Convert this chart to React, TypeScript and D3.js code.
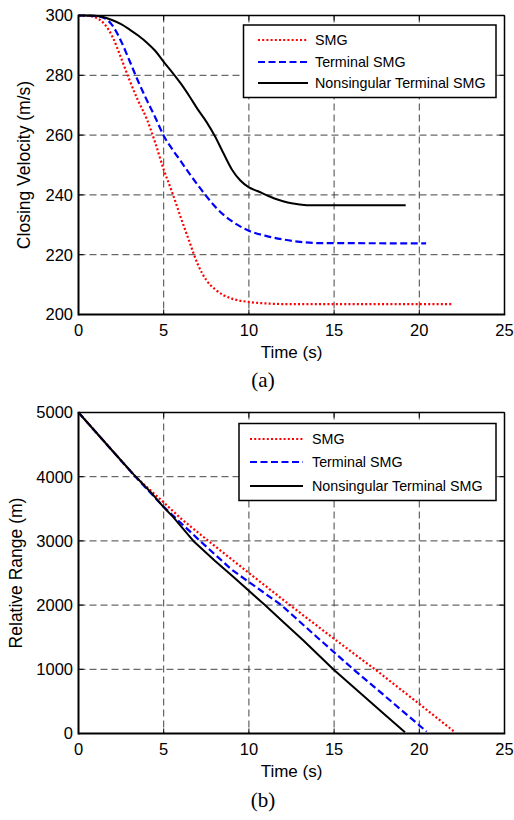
import React from "react";
import * as d3 from "d3";

// ---------- data ----------
const timeTicks = [0, 5, 10, 15, 20, 25];
const velTicks = [200, 220, 240, 260, 280, 300];
const rangeTicks = [0, 1000, 2000, 3000, 4000, 5000];
const seriesNames = ["SMG", "Terminal SMG", "Nonsingular Terminal SMG"];

// (a) Closing velocity
const smgVelT = [0, 0.5, 1, 1.5, 2, 2.5, 3, 3.5, 4, 4.5, 5, 5.5, 6, 6.5, 7, 7.5, 8, 8.5, 9, 10, 11, 12, 22];
const smgVel = [300, 299.9, 299.3, 297.3, 292.8, 285.8, 278.3, 271.5, 265.5, 257.5, 248.5, 240.8, 232.5, 224.5, 216.8, 211.5, 208.5, 206.5, 205.3, 204.2, 203.7, 203.5, 203.5];
const tsmgVelT = [0, 0.5, 1, 1.5, 2, 2.5, 3, 3.5, 4, 4.5, 5, 5.5, 6, 6.5, 7, 7.5, 8, 8.5, 9, 10, 11, 12, 13, 14, 20.4];
const tsmgVel = [300, 300, 299.8, 299.2, 296.6, 291.4, 284.8, 278, 271.8, 266, 259.8, 255.3, 251.3, 247.2, 243.3, 239.6, 236.2, 233.4, 231.2, 228, 226.3, 225.1, 224.3, 223.9, 223.8];
const ntsmgVelT = [0, 0.5, 1, 1.5, 2, 2.5, 3, 3.5, 4, 4.5, 5, 5.5, 6, 6.5, 7, 7.5, 8, 8.5, 9, 9.5, 10, 10.5, 11, 11.5, 12, 12.5, 13, 13.6, 19.2];
const ntsmgVel = [300, 300, 299.9, 299.4, 298.4, 297.1, 295.3, 293.3, 291, 288.2, 284.5, 281, 277.3, 273.1, 268.6, 264.5, 259.7, 254, 248.5, 244.8, 242.5, 241.3, 240, 238.8, 237.9, 237.2, 236.8, 236.5, 236.5];

// (b) Relative range
const smgRangeT = [0, 1, 2, 3.3, 5, 6, 7.62, 10, 12.41, 15, 17.4, 20, 22.05];
const smgRange = [5000, 4700, 4400, 4010, 3600, 3350, 3000, 2500, 2000, 1475, 1000, 460, 30];
const tsmgRangeT = [0, 1, 2, 3.3, 5, 7.13, 9, 11.9, 14, 16.13, 18, 20.43];
const tsmgRange = [5000, 4700, 4400, 4010, 3530, 3000, 2550, 2000, 1500, 1000, 580, 30];
const ntsmgRangeT = [0, 1, 2, 3.22, 4.2, 4.98, 5.56, 6.74, 8, 9.08, 10.94, 12, 13.2, 14.95, 16.5, 18, 19.16];
const ntsmgRange = [5000, 4700, 4400, 4040, 3770, 3530, 3370, 3000, 2690, 2440, 2000, 1740, 1450, 1000, 640, 290, 20];

// ---------- styles ----------
const styles = [
  { color: "#ff0000", width: 2.2, dash: "2,2.2" },
  { color: "#0000ff", width: 2.2, dash: "7,3.5" },
  { color: "#000000", width: 2, dash: "none" },
];
const FONT = "'Liberation Sans', Arial, Helvetica, sans-serif";

type Series = { t: number[]; v: number[] };

function Panel(props: {
  yTop: number;
  yBottom: number;
  yDomain: [number, number];
  yTicks: number[];
  series: Series[];
  curve: any;
  yLabel: string;
  yLabelX: number;
  caption: string;
  captionY: number;
  legend: { x0: number; y0: number; x1: number; y1: number; lx0: number; lx1: number; tx: number; ys: number[] };
}) {
  const { yTop, yBottom, yDomain, yTicks, series, curve, yLabel, yLabelX, caption, captionY, legend } = props;
  const x = d3.scaleLinear().domain([0, 25]).range([78.5, 504.5]);
  const y = d3.scaleLinear().domain(yDomain).range([yBottom, yTop]);
  const x0 = x(0), x1 = x(25);
  const tl = 5;
  return (
    <g>
      {/* grid */}
      {timeTicks.slice(1, -1).map((t) => (
        <line key={"gx" + t} x1={x(t)} x2={x(t)} y1={yTop} y2={yBottom} stroke="#444" strokeWidth={1} strokeDasharray="7,4" />
      ))}
      {yTicks.slice(1, -1).map((v) => (
        <line key={"gy" + v} x1={x0} x2={x1} y1={y(v)} y2={y(v)} stroke="#444" strokeWidth={1} strokeDasharray="7,4" />
      ))}
      {/* ticks inside on all sides */}
      {timeTicks.map((t) => (
        <g key={"tx" + t}>
          <line x1={x(t)} x2={x(t)} y1={yBottom} y2={yBottom - tl} stroke="#000" strokeWidth={1} />
          <line x1={x(t)} x2={x(t)} y1={yTop} y2={yTop + tl} stroke="#000" strokeWidth={1} />
          <text x={x(t)} y={yBottom + 21} textAnchor="middle" fontFamily={FONT} fontSize={16.5} fill="#000">{t}</text>
        </g>
      ))}
      {yTicks.map((v) => (
        <g key={"ty" + v}>
          <line x1={x0} x2={x0 + tl} y1={y(v)} y2={y(v)} stroke="#000" strokeWidth={1} />
          <line x1={x1} x2={x1 - tl} y1={y(v)} y2={y(v)} stroke="#000" strokeWidth={1} />
          <text x={73} y={y(v)} dy="0.36em" textAnchor="end" fontFamily={FONT} fontSize={16.5} fill="#000">{v}</text>
        </g>
      ))}
      {/* series */}
      {series.map((s, i) => {
        const pts = s.t.map((t, j) => [t, s.v[j]] as [number, number]);
        const path = d3.line<[number, number]>().x((d) => x(d[0])).y((d) => y(d[1])).curve(curve)(pts) || "";
        return (
          <path key={"s" + i} d={path} fill="none" stroke={styles[i].color} strokeWidth={styles[i].width}
            strokeDasharray={styles[i].dash} strokeLinecap="butt" strokeLinejoin="round" />
        );
      })}
      {/* box */}
      <line x1={x0} x2={x1} y1={yTop} y2={yTop} stroke="#000" strokeWidth={1.5} />
      <line x1={x1} x2={x1} y1={yTop} y2={yBottom} stroke="#000" strokeWidth={1.5} />
      <line x1={x0} x2={x1 + 0.75} y1={yBottom} y2={yBottom} stroke="#000" strokeWidth={2} />
      <line x1={x0} x2={x0} y1={yTop - 0.75} y2={yBottom + 1} stroke="#000" strokeWidth={2} />
      {/* legend */}
      <rect x={legend.x0} y={legend.y0} width={legend.x1 - legend.x0} height={legend.y1 - legend.y0} fill="#fff" stroke="#000" strokeWidth={1.5} />
      {seriesNames.map((n, i) => (
        <g key={"lg" + i}>
          <line x1={legend.lx0} x2={legend.lx1} y1={legend.ys[i]} y2={legend.ys[i]} stroke={styles[i].color}
            strokeWidth={styles[i].width} strokeDasharray={styles[i].dash} />
          <text x={legend.tx} y={legend.ys[i]} dy="0.36em" fontFamily={FONT} fontSize={14.3} fill="#000">{n}</text>
        </g>
      ))}
      {/* labels */}
      <text x={(x0 + x1) / 2} y={yBottom + 43} textAnchor="middle" fontFamily={FONT} fontSize={17} fill="#000">Time (s)</text>
      <text transform={`translate(${yLabelX},${(yTop + yBottom) / 2}) rotate(-90)`} textAnchor="middle" fontFamily={FONT} fontSize={17.5} fill="#000">{yLabel}</text>
      <text x={263} y={captionY} textAnchor="middle" fontFamily="'Liberation Serif', 'Times New Roman', serif" fontSize={21} fill="#000">{caption}</text>
    </g>
  );
}

export default function App() {
  const velSeries: Series[] = [
    { t: smgVelT, v: smgVel },
    { t: tsmgVelT, v: tsmgVel },
    { t: ntsmgVelT, v: ntsmgVel },
  ];
  const rangeSeries: Series[] = [
    { t: smgRangeT, v: smgRange },
    { t: tsmgRangeT, v: tsmgRange },
    { t: ntsmgRangeT, v: ntsmgRange },
  ];
  return (
    <svg width={514} height={820} style={{ position: "absolute", left: 0, top: 0, background: "#fff" }}>
      <rect x={0} y={0} width={514} height={820} fill="#fff" />
      <Panel
        yTop={15.5}
        yBottom={314.5}
        yDomain={[200, 300]}
        yTicks={velTicks}
        series={velSeries}
        curve={d3.curveMonotoneX}
        yLabel="Closing Velocity (m/s)"
        yLabelX={30}
        caption="(a)"
        captionY={387}
        legend={{ x0: 243.5, y0: 25, x1: 496, y1: 97.5, lx0: 258, lx1: 308, tx: 315, ys: [40, 62, 83] }}
      />
      <Panel
        yTop={412.5}
        yBottom={733.5}
        yDomain={[0, 5000]}
        yTicks={rangeTicks}
        series={rangeSeries}
        curve={d3.curveLinear}
        yLabel="Relative Range (m)"
        yLabelX={22}
        caption="(b)"
        captionY={807}
        legend={{ x0: 239, y0: 423.5, x1: 496, y1: 500.5, lx0: 250, lx1: 303, tx: 312, ys: [439, 462, 486] }}
      />
    </svg>
  );
}
